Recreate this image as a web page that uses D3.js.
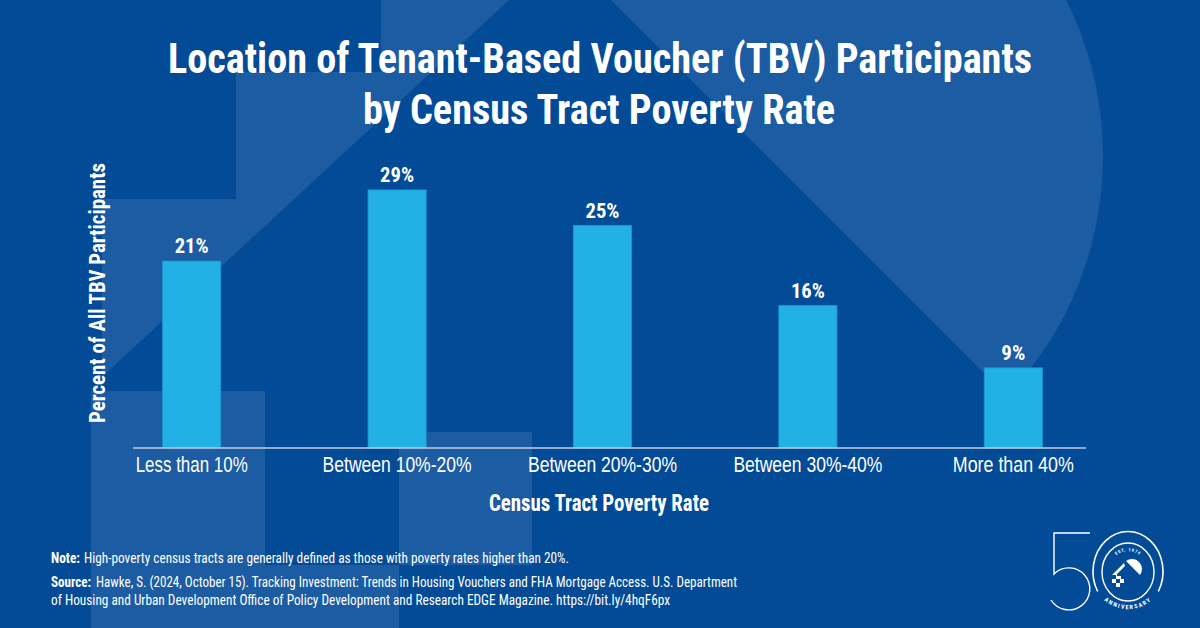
<!DOCTYPE html>
<html>
<head>
<meta charset="utf-8">
<script src="https://cdn.jsdelivr.net/npm/d3@7"></script>
<style>
  html, body { margin: 0; padding: 0; background: #034B97; }
  svg { display: block; }
  text { font-family: "Liberation Sans Narrow", "Arial Narrow", "Roboto Condensed", "Liberation Sans", sans-serif; fill: #ffffff; }
</style>
</head>
<body>
<svg id="chart" width="1200" height="628"></svg>
<script>
// ---- data ----
const categories = ["Less than 10%", "Between 10%-20%", "Between 20%-30%", "Between 30%-40%", "More than 40%"];
const values = [21, 29, 25, 16, 9];
const titleLines = ["Location of Tenant-Based Voucher (TBV) Participants", "by Census Tract Poverty Rate"];
const xAxisTitle = "Census Tract Poverty Rate";
const yAxisTitle = "Percent of All TBV Participants";
const noteLabel = "Note:";
const noteText = "High-poverty census tracts are generally defined as those with poverty rates higher than 20%.";
const sourceLabel = "Source:";
const sourceLines = ["Hawke, S. (2024, October 15). Tracking Investment: Trends in Housing Vouchers and FHA Mortgage Access. U.S. Department",
  "of Housing and Urban Development Office of Policy Development and Research EDGE Magazine. https://bit.ly/4hqF6px"];

// ---- layout ----
const W = 1200, H = 628;
const BG = "#034B97", LIGHT = "#1C5CA2", BAR = "#22B1E6";
const tickWidths = [112, 149, 149, 149, 121];

const svg = d3.select("#chart");
svg.append("rect").attr("width", W).attr("height", H).attr("fill", BG);

// background watermark (enlarged icon shapes)
const bg = svg.append("g").attr("fill", LIGHT);
bg.append("path").attr("d", "M381,0 L509,0 L102,377 L102,199 L236,199 L236,72 L381,72 Z");
bg.append("rect").attr("x", 91).attr("y", 391).attr("width", 174).attr("height", 237);
bg.append("rect").attr("x", 399).attr("y", 432).attr("width", 133).attr("height", 133);
bg.append("rect").attr("x", 265).attr("y", 565).attr("width", 134).attr("height", 63);
bg.append("path").attr("d", "M1007,396 A348,348 0 0 0 515,-96 Z");

// scales
const x = d3.scaleBand().domain(categories).range([89, 1116]).paddingInner(0.717).paddingOuter(0.3585);
const y = d3.scaleLinear().domain([0, 30]).range([448, 181]);

// bars
svg.append("g").selectAll("rect").data(values).join("rect")
  .attr("x", (d, i) => x(categories[i]))
  .attr("width", x.bandwidth())
  .attr("y", d => y(d))
  .attr("height", d => y(0) - y(d))
  .attr("fill", BAR)
  .attr("stroke", "#1D98D4").attr("stroke-width", 0.8);

// value labels
svg.append("g").selectAll("text").data(values).join("text")
  .attr("x", (d, i) => x(categories[i]) + x.bandwidth() / 2)
  .attr("y", d => y(d) - 8)
  .attr("text-anchor", "middle")
  .attr("font-size", 21).attr("font-weight", 700)
  .attr("textLength", d => (d < 10 ? 24 : 34)).attr("lengthAdjust", "spacingAndGlyphs")
  .text(d => d + "%");

// x axis
const axis = svg.append("g").attr("transform", `translate(0,${y(0)})`)
  .call(d3.axisBottom(x).tickSize(0).tickPadding(8));
axis.select(".domain").remove();
axis.selectAll(".tick text")
  .attr("font-size", 22)
  .attr("fill", "#ffffff")
  .style("font-family", "\"Liberation Sans Narrow\", \"Arial Narrow\", \"Liberation Sans\", sans-serif")
  .attr("textLength", (d, i) => tickWidths[i])
  .attr("lengthAdjust", "spacingAndGlyphs");
svg.append("line").attr("x1", 133).attr("x2", 1086).attr("y1", y(0)).attr("y2", y(0))
  .attr("stroke", "#BFCDE0").attr("stroke-width", 1.5);

// titles
svg.append("text").attr("x", 168).attr("y", 73).attr("font-size", 42).attr("font-weight", 700)
  .attr("textLength", 864).attr("lengthAdjust", "spacingAndGlyphs").text(titleLines[0]);
svg.append("text").attr("x", 363).attr("y", 124).attr("font-size", 42).attr("font-weight", 700)
  .attr("textLength", 472).attr("lengthAdjust", "spacingAndGlyphs").text(titleLines[1]);

svg.append("text").attr("x", 489).attr("y", 511).attr("font-size", 23).attr("font-weight", 700)
  .attr("textLength", 220).attr("lengthAdjust", "spacingAndGlyphs").text(xAxisTitle);

svg.append("text").attr("transform", "translate(105,293) rotate(-90)")
  .attr("text-anchor", "middle").attr("font-size", 22).attr("font-weight", 700)
  .attr("textLength", 260).attr("lengthAdjust", "spacingAndGlyphs").text(yAxisTitle);

// notes
function noteText_(xp, yp, len, txt, bold) {
  svg.append("text").attr("x", xp).attr("y", yp).attr("font-size", 15)
    .attr("font-weight", bold ? 700 : 400)
    .attr("textLength", len).attr("lengthAdjust", "spacingAndGlyphs").text(txt);
}
noteText_(51, 563, 29, noteLabel, true);
noteText_(84, 563, 485, noteText, false);
noteText_(51, 587, 40, sourceLabel, true);
noteText_(96, 587, 641, sourceLines[0], false);
noteText_(51, 605, 619, sourceLines[1], false);

// 50th anniversary logo
const logo = svg.append("g").attr("fill", "none").attr("stroke", "#ffffff");
logo.append("path").attr("d", "M1090,533 L1054,533 L1054,574 A21,21 0 1 1 1051,600").attr("stroke-width", 1.4);
logo.append("path").attr("d", "M1097.7,591.5 A35,40 0 1 1 1158.3,591.5").attr("stroke-width", 1.6);
logo.append("ellipse").attr("cx", 1128).attr("cy", 572).attr("rx", 26).attr("ry", 29).attr("stroke-width", 1.4);
const defs = svg.append("defs");
defs.append("path").attr("id", "arcTop").attr("d", "M1112,560 A19,19 0 0 1 1144,560");
defs.append("path").attr("id", "arcBot").attr("d", "M1094,585 A36,36 0 0 0 1162,585");
svg.append("text").attr("font-size", 4.5).attr("font-weight", 700).attr("letter-spacing", 0.8)
  .append("textPath").attr("href", "#arcTop").attr("startOffset", "50%").attr("text-anchor", "middle").text("EST. 1974");
svg.append("text").attr("font-size", 6).attr("font-weight", 700).attr("letter-spacing", 1.5)
  .append("textPath").attr("href", "#arcBot").attr("startOffset", "50%").attr("text-anchor", "middle").text("ANNIVERSARY");
const icon = svg.append("g").attr("fill", "#ffffff");
icon.append("path").attr("d", "M1140,575 A10,10 0 0 0 1126,561 Z");
icon.append("path").attr("d", "M1124,563 L1112,575 L1116,575 L1116,579 L1120,579 L1120,583 L1124,583 L1124,579 L1121,579 L1121,576 L1117,576 L1117,574 L1125,566 Z");
icon.append("rect").attr("x", 1116).attr("y", 583).attr("width", 4).attr("height", 4);
icon.append("rect").attr("x", 1112).attr("y", 579).attr("width", 4).attr("height", 4);
</script>
</body>
</html>
